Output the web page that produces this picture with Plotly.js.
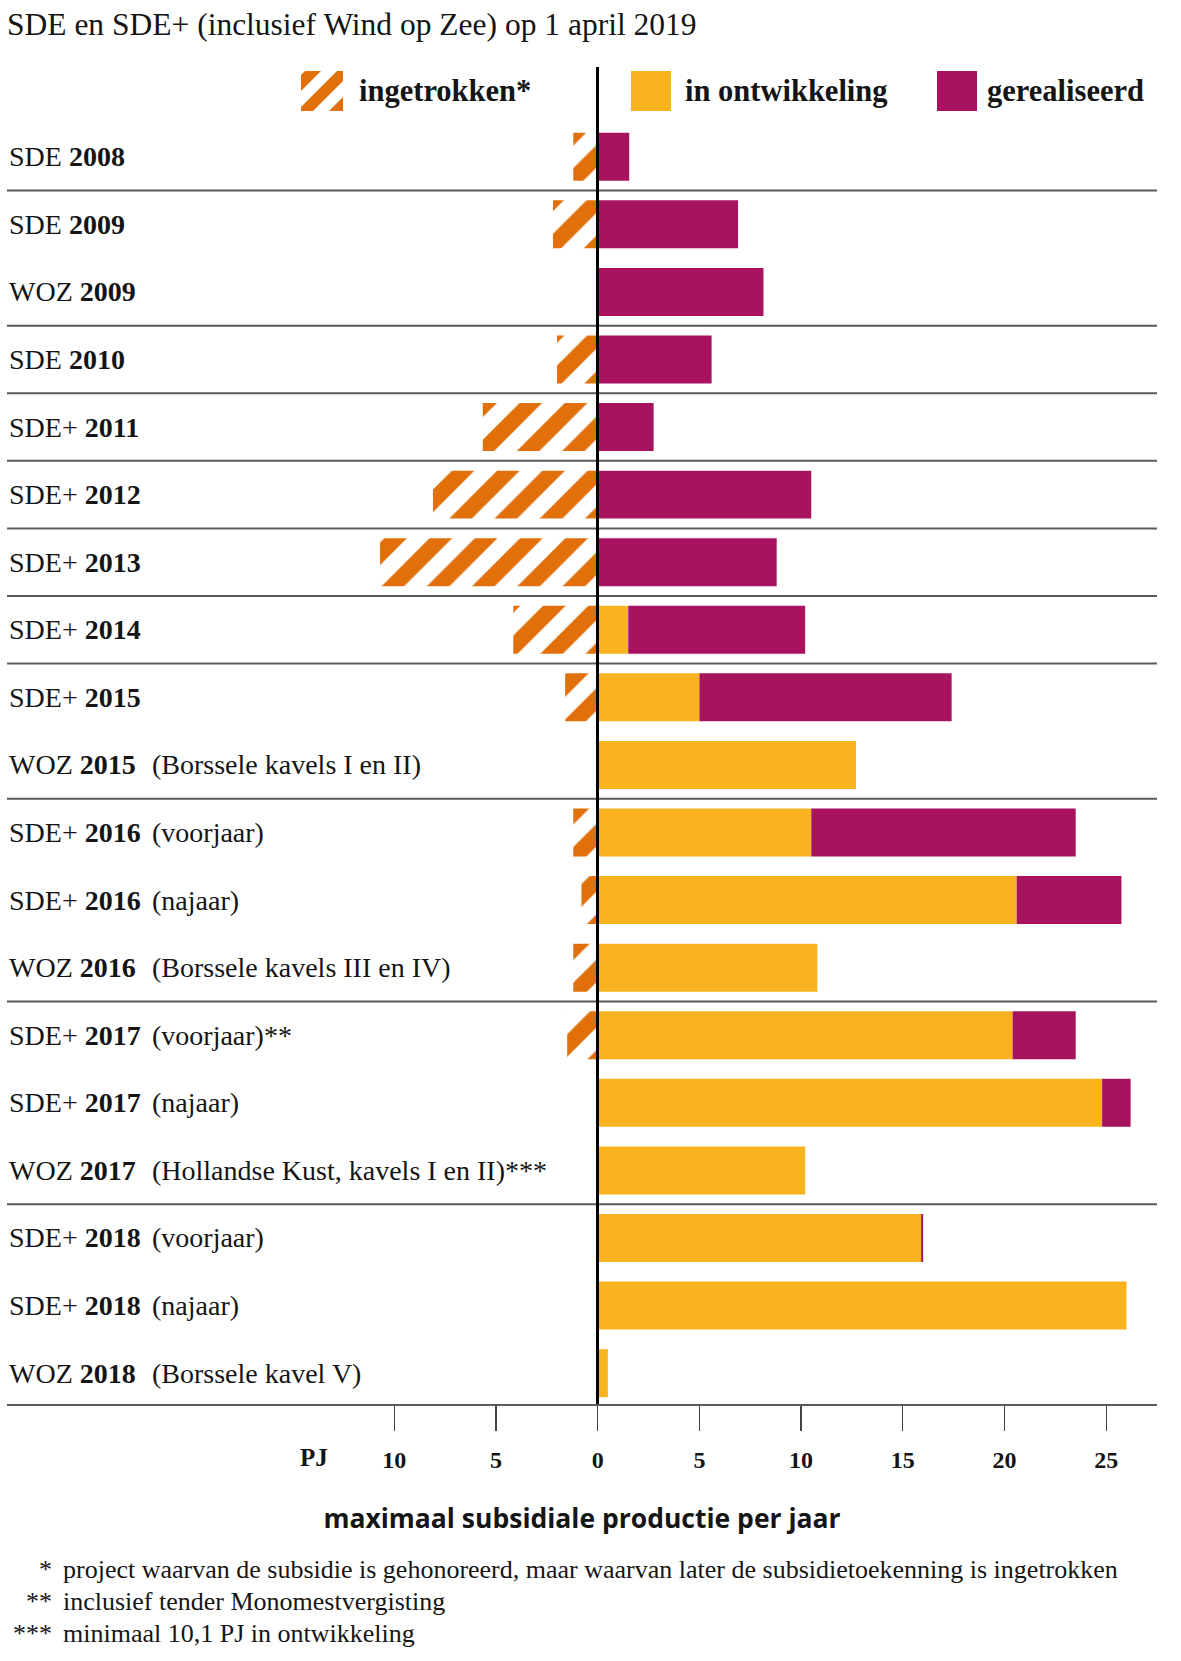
<!DOCTYPE html>
<html><head><meta charset="utf-8">
<script src="https://cdn.plot.ly/plotly-3.0.1.min.js"></script>
<style>html,body{margin:0;padding:0;background:#fff}</style>
</head><body><div id="chart" style="width:1181px;height:1661px"></div>
<script>
// ---- data ----
const schemes = ['SDE','SDE','WOZ','SDE','SDE+','SDE+','SDE+','SDE+','SDE+','WOZ','SDE+','SDE+','WOZ','SDE+','SDE+','WOZ','SDE+','SDE+','WOZ'];
const years = ['2008','2009','2009','2010','2011','2012','2013','2014','2015','2015','2016','2016','2016','2017','2017','2017','2018','2018','2018'];
const notes = ['','','','','','','','','','(Borssele kavels I en II)','(voorjaar)','(najaar)','(Borssele kavels III en IV)','(voorjaar)**','(najaar)','(Hollandse Kust, kavels I en II)***','(voorjaar)','(najaar)','(Borssele kavel V)'];
const ingetrokken = [1.2,2.2,0,2.0,5.65,8.1,10.7,4.15,1.6,0,1.2,0.8,1.2,1.5,0,0,0,0,0];
const inOntwikkeling = [0,0,0,0,0,0,0,1.5,5.0,12.7,10.5,20.6,10.8,20.4,24.8,10.2,15.9,26.0,0.5];
const gerealiseerd = [1.55,6.9,8.15,5.6,2.75,10.5,8.8,8.7,12.4,0,13.0,5.15,0,3.1,1.4,0,0.1,0,0];
const tickVals = [-10,-5,0,5,10,15,20,25];
const tickText = ['10','5','0','5','10','15','20','25'];
const legendLabels = ['ingetrokken*','in ontwikkeling','gerealiseerd'];
const footMarks = ['*','**','***'];
const footTexts = ['project waarvan de subsidie is gehonoreerd, maar waarvan later de subsidietoekenning is ingetrokken','inclusief tender Monomestvergisting','minimaal 10,1 PJ in ontwikkeling'];
const titleText = 'SDE en SDE+ (inclusief Wind op Zee) op 1 april 2019';
const axisTitle = 'maximaal subsidiale productie per jaar';
const unitLabel = 'PJ';

// ---- style ----
const ORANGE = '#e1700b', YELLOW = '#f9b31f', MAGENTA = '#a8135f', INK = '#151515';
const SERIF = 'Liberation Serif';
const W = 1181, H = 1661, L = 7, R = 1157, T = 67, B = 1404.5;
const PX = x => (x - L) / (R - L);
const PY = y => (B - y) / (B - T);
const ZERO_PX = 597.7, PX_PER_UNIT = 20.34;

const cats = schemes.map((s, i) => s + ' ' + years[i] + (notes[i] ? ' ' + notes[i] : ''));

const traces = [
  {type:'bar', orientation:'h', name:legendLabels[0], y:cats, x:ingetrokken.map(v => -v),
   marker:{color:'#ffffff', line:{width:0}, pattern:{shape:'/', fgcolor:ORANGE, bgcolor:'#ffffff', size:32, solidity:0.5}}},
  {type:'bar', orientation:'h', name:legendLabels[1], y:cats, x:inOntwikkeling,
   marker:{color:YELLOW, line:{width:0}}},
  {type:'bar', orientation:'h', name:legendLabels[2], y:cats, x:gerealiseerd,
   marker:{color:MAGENTA, line:{width:0}}}
];

const annotations = [];
cats.forEach((c, i) => {
  annotations.push({xref:'paper', x:0, xanchor:'left', yref:'y', y:c, yanchor:'middle', showarrow:false,
    text: schemes[i] + ' <b>' + years[i] + '</b>', font:{family:SERIF, size:28, color:INK}});
  if (notes[i]) annotations.push({xref:'paper', x:PX(150), xanchor:'left', yref:'y', y:c, yanchor:'middle', showarrow:false,
    text: notes[i], font:{family:SERIF, size:28, color:INK}});
});
// legend texts
const legX = [357, 683, 985];
legendLabels.forEach((t, i) => annotations.push({xref:'paper', x:PX(legX[i]), xanchor:'left', yref:'paper', y:PY(91), yanchor:'middle',
  showarrow:false, text:'<b>' + t + '</b>', font:{family:SERIF, size:30.5, color:INK}}));
// unit label
annotations.push({xref:'paper', x:PX(314), xanchor:'center', yref:'paper', y:PY(1458), yanchor:'middle', showarrow:false,
  text:'<b>' + unitLabel + '</b>', font:{family:SERIF, size:25, color:INK}});
// footnotes
const footY = [1570, 1602, 1634];
footTexts.forEach((t, i) => {
  annotations.push({xref:'paper', x:PX(54), xanchor:'right', yref:'paper', y:PY(footY[i]), yanchor:'middle', showarrow:false,
    text: footMarks[i], font:{family:SERIF, size:26, color:INK}});
  annotations.push({xref:'paper', x:PX(61), xanchor:'left', yref:'paper', y:PY(footY[i]), yanchor:'middle', showarrow:false,
    text: t, font:{family:SERIF, size:26, color:INK}});
});

// shapes: group separators
const shapes = [];
for (let i = 0; i < years.length - 1; i++) {
  if (years[i] !== years[i + 1]) shapes.push({type:'line', xref:'paper', x0:0, x1:1, yref:'y', y0:i + 0.5, y1:i + 0.5,
    line:{color:'#5a5a5a', width:2}, layer:'below'});
}
// legend swatches
function clipHalf(poly, f) {
  const out = [];
  for (let i = 0; i < poly.length; i++) {
    const P = poly[i], Q = poly[(i + 1) % poly.length];
    const fp = f(P), fq = f(Q);
    if (fp >= 0) out.push(P);
    if ((fp >= 0) !== (fq >= 0)) { const t = fp / (fp - fq); out.push([P[0] + t * (Q[0] - P[0]), P[1] + t * (Q[1] - P[1])]); }
  }
  return out;
}
function toPath(poly, x0, y0) {
  return poly.map((p, k) => (k ? 'L' : 'M') + PX(x0 + p[0]).toFixed(5) + ',' + PY(y0 + p[1]).toFixed(5)).join('') + 'Z';
}
const sw = {x0:301, y0:71, w:42, h:40};
[[4, 20], [36, 52], [68, 90]].forEach(([a, b]) => {
  let poly = [[0, 0], [sw.w, 0], [sw.w, sw.h], [0, sw.h]];
  poly = clipHalf(poly, p => p[0] + p[1] - a);
  poly = clipHalf(poly, p => b - (p[0] + p[1]));
  if (poly.length > 2) shapes.push({type:'path', xref:'paper', yref:'paper', path:toPath(poly, sw.x0, sw.y0),
    fillcolor:ORANGE, line:{width:0}});
});
[[631, YELLOW], [937, MAGENTA]].forEach(([x, col]) => shapes.push({type:'rect', xref:'paper', yref:'paper',
  x0:PX(x), x1:PX(x + 40), y0:PY(71), y1:PY(111), fillcolor:col, line:{width:0}}));

const layout = {
  width:W, height:H, margin:{l:L, r:W - R, t:T, b:H - B, pad:0},
  paper_bgcolor:'#ffffff', plot_bgcolor:'#ffffff',
  barmode:'relative', bargap:0.29, showlegend:false,
  title:{text:titleText, xref:'paper', x:0, xanchor:'left', yref:'container', y:1 - 24 / H, yanchor:'middle',
    font:{family:SERIF, size:31.5, color:INK}},
  xaxis:{range:[(L - ZERO_PX) / PX_PER_UNIT, (R - ZERO_PX) / PX_PER_UNIT], tickvals:tickVals, ticktext:tickText,
    ticks:'outside', ticklen:25, tickwidth:1.3, tickcolor:'#444', showline:true, linecolor:'#5a5a5a', linewidth:2,
    showgrid:false, zeroline:true, zerolinecolor:'#000', zerolinewidth:2.6, zerolinelayer:'above traces',
    ticklabelstandoff:8, tickfont:{family:SERIF, size:24, color:INK, weight:'bold'},
    title:{text:axisTitle, standoff:38, font:{family:'Open Sans', size:26.5, color:INK, weight:'bold'}}, fixedrange:true},
  yaxis:{type:'category', autorange:false, range:[18.457, -1.328], showticklabels:false, ticks:'', showgrid:false,
    zeroline:false, showline:false, fixedrange:true},
  annotations:annotations, shapes:shapes
};
Plotly.newPlot('chart', traces, layout, {staticPlot:true, displayModeBar:false});
</script></body></html>
